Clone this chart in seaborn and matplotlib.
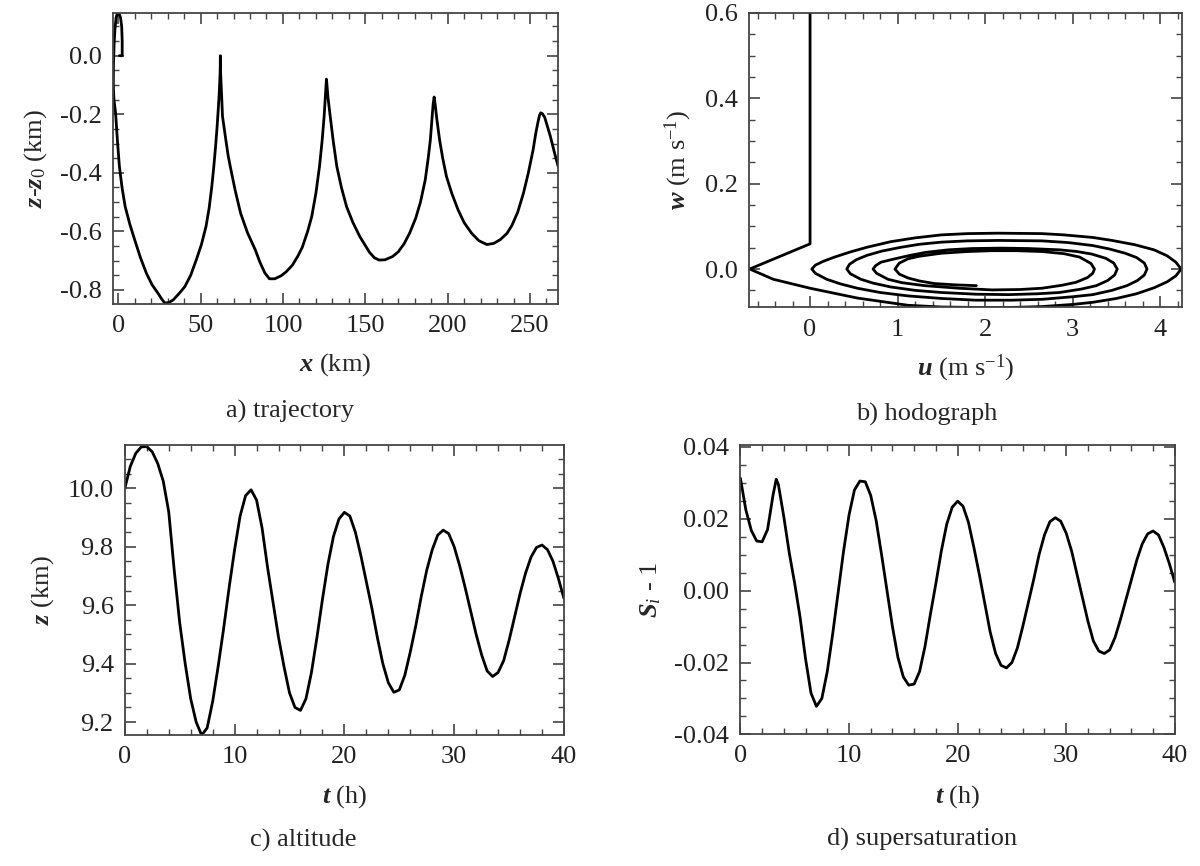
"""Four-panel parcel oscillation figure: trajectory, hodograph, altitude, supersaturation."""
import matplotlib
matplotlib.use("Agg")
import matplotlib.pyplot as plt
from matplotlib.ticker import MultipleLocator, FormatStrFormatter
import seaborn as sns

# ---- a) trajectory: x (km) vs z - z0 (km) ----
traj_x = [0.7, 2.4, 2.4, 2.1, 1.4, 0.5, -0.5, -1.3, -2.0, -2.5, -2.9, -3.0, -2.6, -1.6,
          -0.5, 0.7, 2.3, 4.2, 7.0, 10.0, 13.5, 17.1, 20.5, 24.1, 26.5, 28.3, 30.8, 33.4,
          37.0, 40.4, 44.0, 47.4, 50.5, 53.3, 55.2, 56.8, 58.0, 59.1, 60.0, 60.7, 61.3,
          61.7, 61.9, 62.0, 62.1, 62.4, 62.8, 63.3, 65.4, 66.7, 68.0, 71.0, 74.3, 78.5,
          83.2, 86.0, 89.0, 91.8, 95.0, 98.8, 102.0, 105.8, 109.0, 111.7, 115.0, 117.5,
          120.0, 122.2, 123.8, 125.0, 125.8, 126.2, 126.4, 126.7, 127.3, 128.7, 130.5,
          132.7, 135.5, 138.6, 142.5, 146.7, 152.6, 155.5, 158.4, 162.0, 166.6, 170.0,
          173.6, 177.0, 180.6, 183.5, 186.4, 188.2, 189.5, 190.5, 191.2, 191.8, 192.4,
          193.4, 195.1, 197.0, 199.3, 202.5, 206.3, 210.0, 214.5, 219.0, 223.8, 228.0,
          232.0, 236.0, 239.0, 242.5, 246.0, 249.0, 251.9, 253.5, 254.9, 255.8, 256.5,
          257.5, 258.9, 260.5, 262.4, 264.8, 267.1]
traj_z = [0.0, 0.0, 0.05, 0.10, 0.13, 0.144, 0.146, 0.13, 0.09, 0.04, -0.03, -0.10,
          -0.15, -0.196, -0.29, -0.378, -0.45, -0.515, -0.575, -0.629, -0.69, -0.743,
          -0.782, -0.811, -0.832, -0.845, -0.843, -0.834, -0.812, -0.789, -0.75, -0.697,
          -0.645, -0.583, -0.52, -0.447, -0.38, -0.31, -0.245, -0.185, -0.13, -0.08,
          -0.05, 0.0, -0.05, -0.09, -0.14, -0.207, -0.29, -0.34, -0.378, -0.46, -0.538,
          -0.605, -0.663, -0.705, -0.742, -0.762, -0.762, -0.752, -0.738, -0.715,
          -0.685, -0.655, -0.60, -0.549, -0.47, -0.378, -0.29, -0.207, -0.135, -0.098,
          -0.080, -0.098, -0.14, -0.207, -0.29, -0.378, -0.45, -0.515, -0.57, -0.618,
          -0.672, -0.69, -0.698, -0.697, -0.686, -0.67, -0.642, -0.605, -0.555, -0.50,
          -0.424, -0.35, -0.287, -0.215, -0.165, -0.141, -0.165, -0.215, -0.287, -0.35,
          -0.413, -0.47, -0.526, -0.57, -0.606, -0.632, -0.645, -0.641, -0.628, -0.607,
          -0.58, -0.535, -0.47, -0.40, -0.321, -0.265, -0.225, -0.203, -0.195, -0.198,
          -0.21, -0.24, -0.276, -0.33, -0.378]

# ---- b) hodograph: u vs w (m/s), one spiral traced arc by arc ----
hodo_u = [0.0, 0.0, -0.69,
          # outer lower arc
          -0.42, 0.0, 0.54, 1.12, 1.5, 1.89, 2.3, 2.65, 3.0, 3.23, 3.5, 3.73, 3.93, 4.08,
          4.18, 4.24,
          # outer upper arc
          4.18, 4.08, 3.93, 3.71, 3.45, 3.23, 2.9, 2.65, 2.15, 1.8, 1.5, 1.2, 0.92, 0.65,
          0.46, 0.28, 0.15, 0.06, 0.02,
          # second lower
          0.06, 0.19, 0.35, 0.54, 0.8, 1.12, 1.5, 1.89, 2.3, 2.65, 3.0, 3.23, 3.45, 3.62,
          3.74, 3.82, 3.85,
          # second upper
          3.82, 3.73, 3.6, 3.42, 3.23, 2.95, 2.65, 2.15, 1.8, 1.5, 1.25, 1.04, 0.82, 0.65,
          0.53, 0.45, 0.42,
          # third lower
          0.46, 0.58, 0.72, 0.92, 1.2, 1.5, 1.9, 2.27, 2.6, 2.85, 3.1, 3.27, 3.4, 3.48,
          3.51,
          # third upper
          3.47, 3.38, 3.22, 3.05, 2.85, 2.5, 2.19, 1.85, 1.58, 1.32, 1.12, 0.95, 0.81,
          0.75, 0.72,
          # fourth lower
          0.76, 0.89, 1.05, 1.31, 1.7, 2.08, 2.4, 2.65, 2.88, 3.04, 3.17, 3.23, 3.25,
          # fourth upper
          3.21, 3.08, 2.9, 2.65, 2.35, 2.08, 1.8, 1.5, 1.25, 1.12, 1.02, 0.97,
          # last partial lower
          1.02, 1.12, 1.25, 1.42, 1.65, 1.90]
hodo_w = [0.60, 0.059, 0.0,
          -0.024, -0.045, -0.068, -0.085, -0.089, -0.090, -0.090, -0.088, -0.083, -0.078,
          -0.069, -0.058, -0.044, -0.030, -0.016, 0.0,
          0.016, 0.031, 0.045, 0.057, 0.067, 0.074, 0.080, 0.083, 0.084, 0.083, 0.080,
          0.073, 0.064, 0.051, 0.040, 0.028, 0.018, 0.009, 0.0,
          -0.010, -0.024, -0.035, -0.045, -0.055, -0.063, -0.069, -0.073, -0.073, -0.071,
          -0.065, -0.060, -0.050, -0.039, -0.027, -0.014, 0.0,
          0.014, 0.027, 0.037, 0.047, 0.055, 0.062, 0.066, 0.067, 0.066, 0.063, 0.058,
          0.051, 0.042, 0.032, 0.022, 0.011, 0.0,
          -0.011, -0.024, -0.033, -0.042, -0.050, -0.055, -0.059, -0.060, -0.058, -0.055,
          -0.047, -0.039, -0.027, -0.014, 0.0,
          0.014, 0.025, 0.035, 0.041, 0.045, 0.048, 0.049, 0.048, 0.045, 0.039, 0.031,
          0.023, 0.016, 0.008, 0.0,
          -0.010, -0.024, -0.032, -0.039, -0.045, -0.049, -0.048, -0.045, -0.038, -0.031,
          -0.020, -0.010, 0.0,
          0.013, 0.028, 0.036, 0.041, 0.043, 0.043, 0.041, 0.037, 0.030, 0.024, 0.014,
          0.0,
          -0.012, -0.021, -0.028, -0.034, -0.037, -0.039]

# ---- c) altitude z (km) vs t (h) ----
alt_t = [0.0, 0.5, 1.0, 1.5, 2.0, 2.5, 3.0, 3.5, 4.0, 4.5, 5.0, 5.5, 6.0, 6.5, 7.0, 7.5,
         8.0, 8.5, 9.0, 9.5, 10.0, 10.5, 11.0, 11.5, 12.0, 12.5, 13.0, 13.5, 14.0, 14.5,
         15.0, 15.5, 16.0, 16.5, 17.0, 17.5, 18.0, 18.5, 19.0, 19.5, 20.0, 20.5, 21.0,
         21.5, 22.0, 22.5, 23.0, 23.5, 24.0, 24.5, 25.0, 25.5, 26.0, 26.5, 27.0, 27.5,
         28.0, 28.5, 29.0, 29.5, 30.0, 30.5, 31.0, 31.5, 32.0, 32.5, 33.0, 33.5, 34.0,
         34.5, 35.0, 35.5, 36.0, 36.5, 37.0, 37.5, 38.0, 38.5, 39.0, 39.5, 40.0]
alt_z = [10.0, 10.075, 10.12, 10.142, 10.143, 10.125, 10.085, 10.025, 9.92, 9.72, 9.54,
         9.40, 9.28, 9.20, 9.155, 9.18, 9.27, 9.39, 9.52, 9.66, 9.79, 9.905, 9.975, 9.995,
         9.96, 9.865, 9.73, 9.61, 9.49, 9.39, 9.30, 9.25, 9.24, 9.28, 9.37, 9.49, 9.62,
         9.74, 9.835, 9.895, 9.918, 9.905, 9.85, 9.77, 9.68, 9.59, 9.49, 9.40, 9.335,
         9.302, 9.31, 9.36, 9.44, 9.53, 9.63, 9.72, 9.79, 9.84, 9.857, 9.845, 9.80, 9.735,
         9.66, 9.58, 9.50, 9.43, 9.375, 9.356, 9.37, 9.41, 9.48, 9.56, 9.64, 9.71, 9.765,
         9.798, 9.806, 9.79, 9.75, 9.69, 9.623]

# ---- d) supersaturation S_i - 1 vs t (h) ----
sat_t = [0.0, 0.5, 1.0, 1.5, 2.0, 2.5, 3.0, 3.3, 3.5, 4.0, 4.5, 5.0, 5.5, 6.0, 6.5, 7.0,
         7.5, 8.0, 8.5, 9.0, 9.5, 10.0, 10.5, 11.0, 11.5, 12.0, 12.5, 13.0, 13.5, 14.0,
         14.5, 15.0, 15.5, 16.0, 16.5, 17.0, 17.5, 18.0, 18.5, 19.0, 19.5, 20.0, 20.5,
         21.0, 21.5, 22.0, 22.5, 23.0, 23.5, 24.0, 24.5, 25.0, 25.5, 26.0, 26.5, 27.0,
         27.5, 28.0, 28.5, 29.0, 29.5, 30.0, 30.5, 31.0, 31.5, 32.0, 32.5, 33.0, 33.5,
         34.0, 34.5, 35.0, 35.5, 36.0, 36.5, 37.0, 37.5, 38.0, 38.5, 39.0, 39.5, 40.0]
sat_s = [0.0313, 0.0225, 0.0168, 0.0138, 0.0136, 0.0170, 0.0265, 0.0310, 0.0295, 0.0205,
         0.0105, 0.0020, -0.0075, -0.0190, -0.0285, -0.0322, -0.0300, -0.0225, -0.0120,
         -0.0005, 0.0110, 0.0210, 0.0280, 0.0305, 0.0303, 0.0265, 0.0195, 0.0100, 0.0,
         -0.0100, -0.0185, -0.0240, -0.0263, -0.0260, -0.0225, -0.0155, -0.0065, 0.0020,
         0.0110, 0.0185, 0.0232, 0.0249, 0.0235, 0.0190, 0.0120, 0.0045, -0.0035,
         -0.0115, -0.0175, -0.0208, -0.0215, -0.0200, -0.0160, -0.0100, -0.0035, 0.0030,
         0.0100, 0.0155, 0.0192, 0.0203, 0.0193, 0.0160, 0.0110, 0.0045, -0.0020,
         -0.0085, -0.0140, -0.0168, -0.0175, -0.0165, -0.0130, -0.0080, -0.0025, 0.0030,
         0.0085, 0.0130, 0.0158, 0.0166, 0.0155, 0.0120, 0.0075, 0.0023]

sns.set_theme(style="ticks")
plt.rcParams.update({
    "font.family": ["Liberation Serif", "DejaVu Serif"],
    "mathtext.fontset": "custom",
    "mathtext.rm": "Liberation Serif",
    "mathtext.it": "Liberation Serif:style=italic",
    "mathtext.bf": "Liberation Serif:style=italic:weight=bold",
    "axes.unicode_minus": False,
    "axes.edgecolor": "#444444",
    "axes.linewidth": 1.3,
    "xtick.direction": "in",
    "ytick.direction": "in",
    "xtick.top": True,
    "ytick.right": True,
    "xtick.major.size": 8,
    "ytick.major.size": 8,
    "xtick.minor.size": 4,
    "ytick.minor.size": 4,
    "xtick.color": "#444444",
    "ytick.color": "#444444",
    "xtick.labelcolor": "#222222",
    "ytick.labelcolor": "#222222",
})

FS = 19
fig = plt.figure(figsize=(12, 8.66), dpi=100)

panels = {
    "a": [0.094, 0.649, 0.371, 0.336],
    "b": [0.624, 0.645, 0.361, 0.340],
    "c": [0.104, 0.151, 0.366, 0.335],
    "d": [0.617, 0.152, 0.362, 0.334],
}
axes = {k: fig.add_axes(v) for k, v in panels.items()}


def draw(ax, x, y):
    sns.lineplot(x=x, y=y, sort=False, estimator=None, color="black",
                 linewidth=2.0, ax=ax)


def style(ax, xmaj, xmin, ymaj, ymin, yfmt):
    ax.xaxis.set_major_locator(MultipleLocator(xmaj))
    ax.xaxis.set_minor_locator(MultipleLocator(xmin))
    ax.yaxis.set_major_locator(MultipleLocator(ymaj))
    ax.yaxis.set_minor_locator(MultipleLocator(ymin))
    ax.yaxis.set_major_formatter(FormatStrFormatter(yfmt))
    ax.xaxis.set_major_formatter(FormatStrFormatter("%g"))
    ax.tick_params(which="both", top=True, right=True, labelsize=FS, pad=8)
    ax.tick_params(which="minor", width=1.0)
    ax.tick_params(which="major", width=1.2)


# a) trajectory
ax = axes["a"]
draw(ax, traj_x, traj_z)
ax.set_xlim(-3.3, 267)
ax.set_ylim(-0.848, 0.146)
style(ax, 50, 10, 0.2, 0.05, "%.1f")
ax.set_xlabel(r"$\mathbf{x}$ (km)", fontsize=FS, labelpad=10)
ax.set_ylabel(r"$\mathbf{z}$-$\mathbf{z}_{\mathrm{0}}$ (km)", fontsize=FS, labelpad=8)

# b) hodograph
ax = axes["b"]
draw(ax, hodo_u, hodo_w)
ax.set_xlim(-0.70, 4.25)
ax.set_ylim(-0.09, 0.6)
style(ax, 1, 0.2, 0.2, 0.05, "%.1f")
ax.set_xlabel(r"$\mathbf{u}$ (m s$^{\mathrm{-1}}$)", fontsize=FS, labelpad=9)
ax.set_ylabel(r"$\mathbf{w}$ (m s$^{\mathrm{-1}}$)", fontsize=FS, labelpad=8)

# c) altitude
ax = axes["c"]
draw(ax, alt_t, alt_z)
ax.set_xlim(0, 40)
ax.set_ylim(9.155, 10.148)
style(ax, 10, 2, 0.2, 0.05, "%.1f")
ax.set_xlabel(r"$\mathbf{t}$ (h)", fontsize=FS, labelpad=11)
ax.set_ylabel(r"$\mathbf{z}$ (km)", fontsize=FS, labelpad=8)

# d) supersaturation
ax = axes["d"]
draw(ax, sat_t, sat_s)
ax.set_xlim(0, 40)
ax.set_ylim(-0.040, 0.0405)
style(ax, 10, 2, 0.02, 0.005, "%.2f")
ax.set_xlabel(r"$\mathbf{t}$ (h)", fontsize=FS, labelpad=11)
ax.set_ylabel(r"$\mathbf{S}_{\mathit{i}}$ - 1", fontsize=FS, labelpad=8)

captions = [
    (0.242, 0.525, "a) trajectory"),
    (0.772, 0.521, "b) hodograph"),
    (0.253, 0.029, "c) altitude"),
    (0.768, 0.031, "d) supersaturation"),
]
for x, y, txt in captions:
    fig.text(x, y, txt, ha="center", va="center", fontsize=FS)

fig.savefig("out.png", dpi=100)
plt.close(fig)
